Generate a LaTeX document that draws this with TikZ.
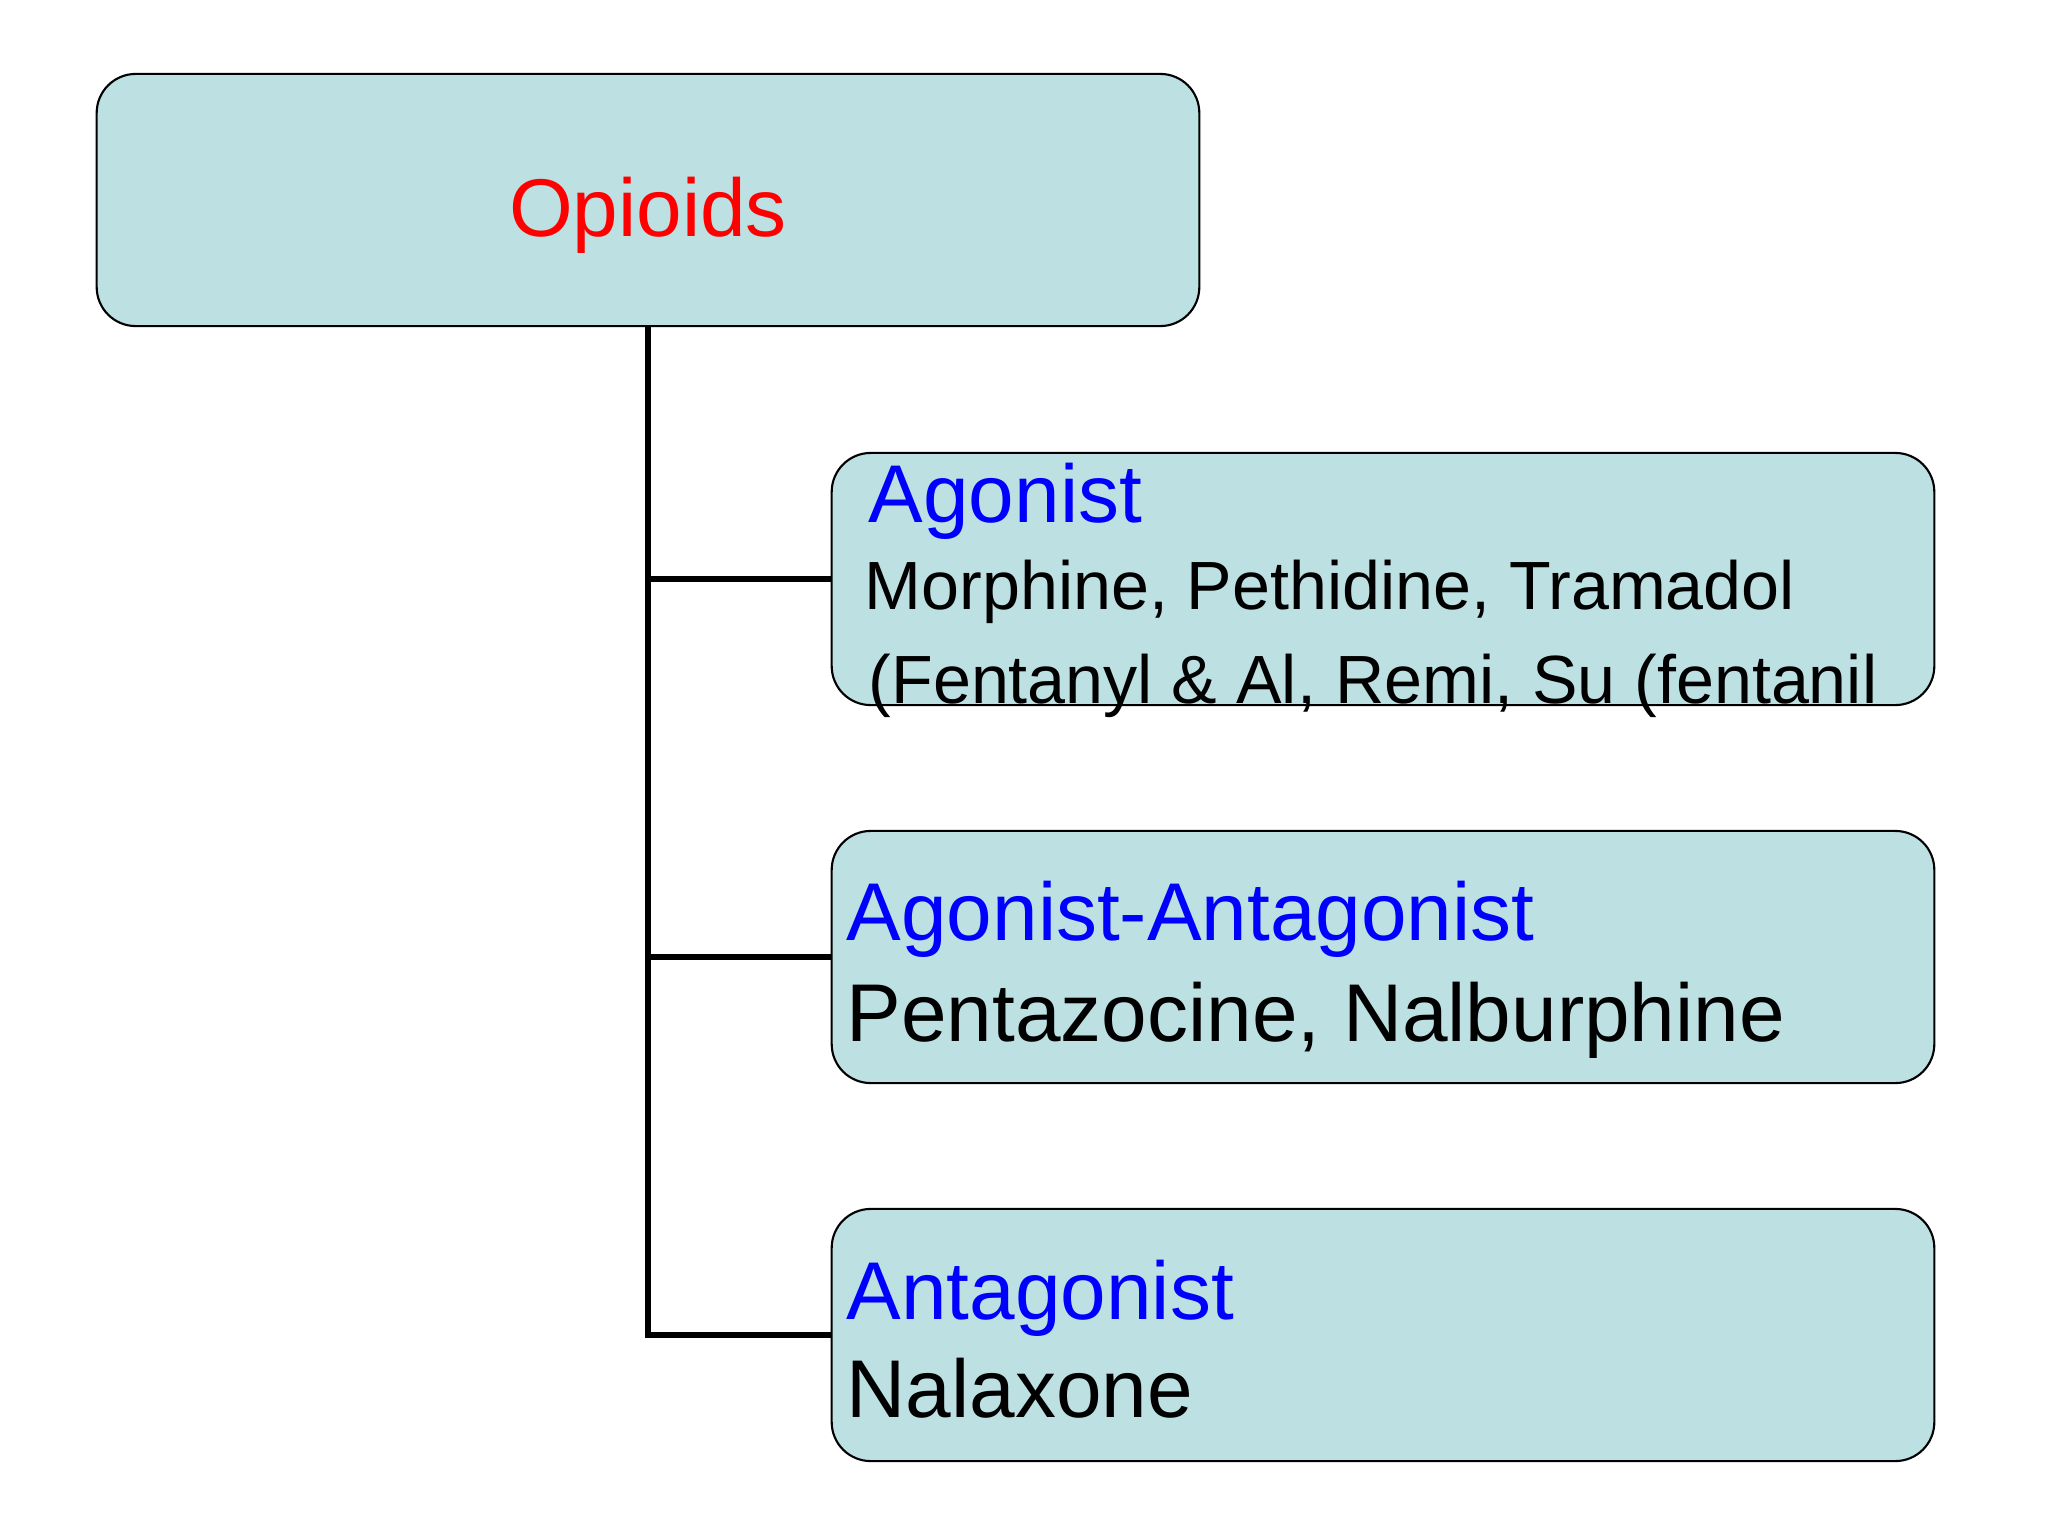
\documentclass[tikz,border=0pt]{standalone}
\usepackage{fontspec}
\setmainfont{Liberation Sans}
\definecolor{boxfill}{RGB}{189,224,227}
\definecolor{headblue}{RGB}{0,0,255}
\definecolor{topred}{RGB}{255,0,0}

\begin{document}
\begin{tikzpicture}[x=0.01cm,y=-0.01cm,
  box/.style={draw=black,line width=0.6pt,fill=boxfill,rounded corners=0.39cm,
    minimum width=11.02cm,minimum height=2.52cm,inner sep=0pt},
  head/.style={anchor=base west,inner sep=0pt,text=headblue,font=\fontsize{23.3}{28}\selectfont},
  drug/.style={anchor=base west,inner sep=0pt,font=\fontsize{23.3}{28}\selectfont},
  smalldrug/.style={anchor=base west,inner sep=0pt,font=\fontsize{19.4}{23}\selectfont},
  link/.style={line width=1.6pt}]
\useasboundingbox (0,0) rectangle (2048,1536);
\fill[white] (0,0) rectangle (2048,1536);

% boxes
\node[box] (opioids) at (648,200) {};
\node[box] (agonist) at (1383,579) {};
\node[box] (mixed) at (1383,957) {};
\node[box] (antagonist) at (1383,1335) {};

% tree lines
\draw[link] (opioids.south) |- (agonist.west);
\draw[link] (opioids.south) |- (mixed.west);
\draw[link] (opioids.south) |- (antagonist.west);

% texts
\node[anchor=base,inner sep=0pt,text=topred,font=\fontsize{23.3}{28}\selectfont] (opioidstxt) at (648,236) {Opioids};

\node[head] (agonisttxt) at (868,522) {Agonist};
\node[smalldrug] (agonistlist) at (864,609) {Morphine, Pethidine, Tramadol};
\node[smalldrug] (agonistmore) at (868,703) {(Fentanyl \& Al, Remi, Su (fentanil};

\node[head] (mixedtxt) at (846,940) {Agonist-Antagonist};
\node[drug] (mixedlist) at (846,1041) {Pentazocine, Nalburphine};

\node[head] (antagonisttxt) at (846,1319) {Antagonist};
\node[drug] (antagonistlist) at (846,1417) {Nalaxone};
\end{tikzpicture}
\end{document}
